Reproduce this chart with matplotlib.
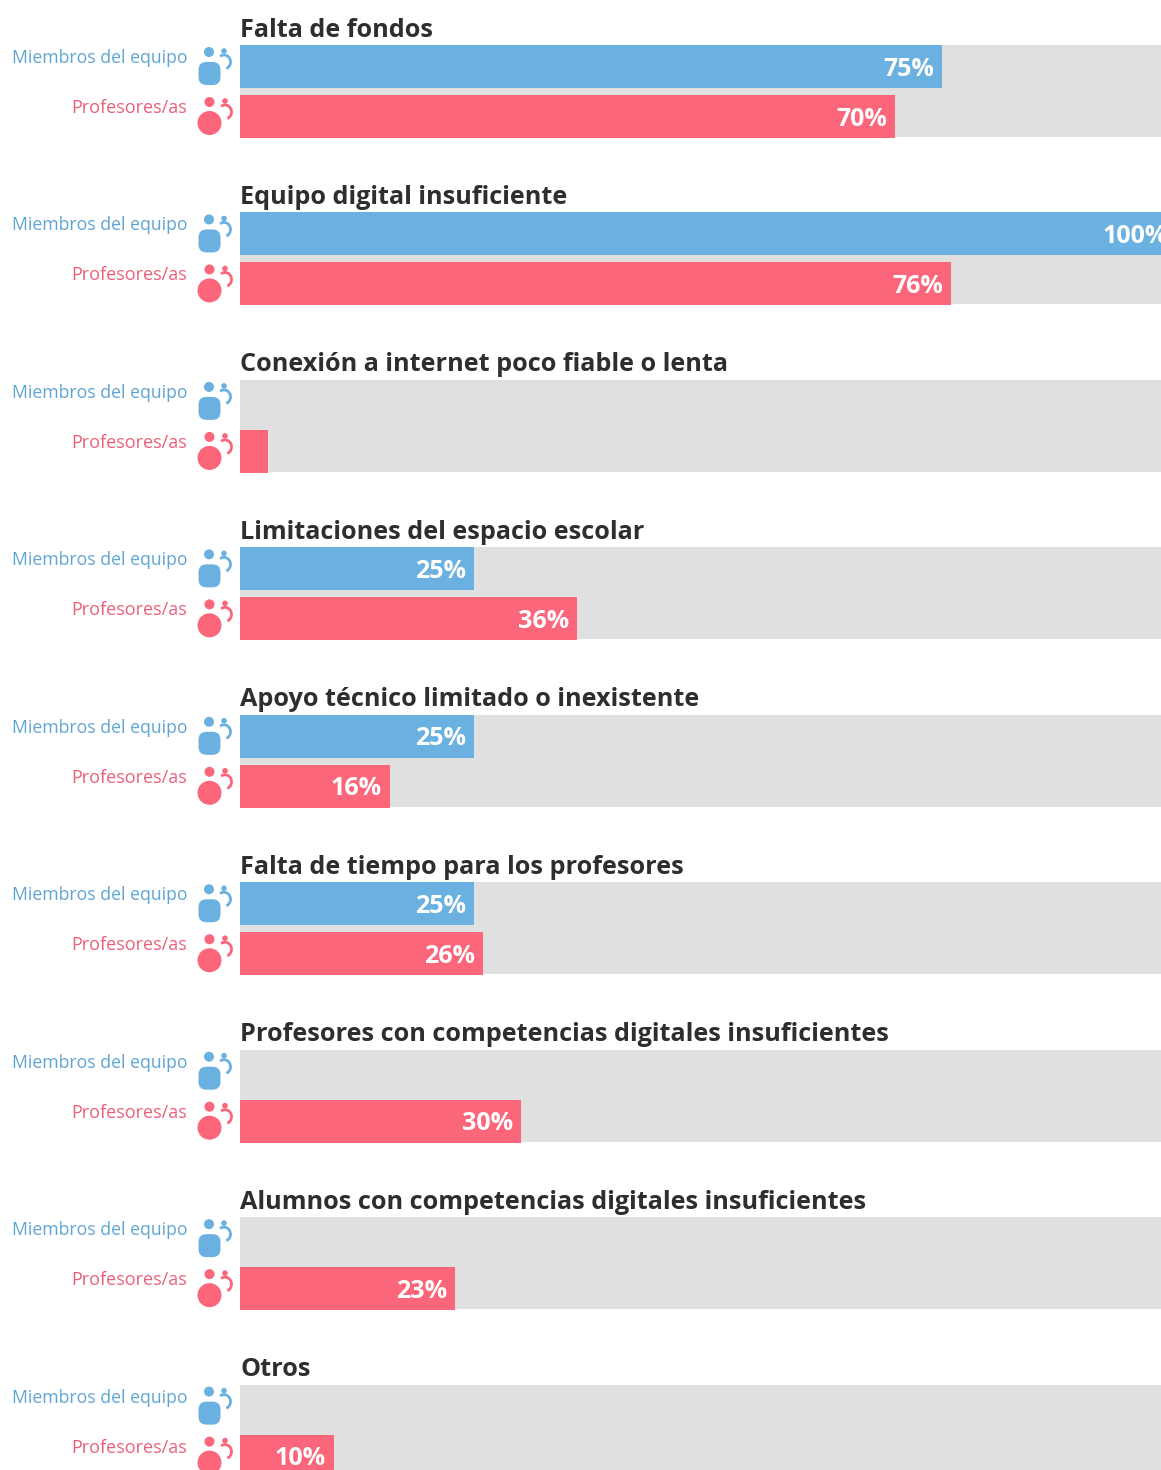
import matplotlib
matplotlib.use("Agg")
import matplotlib.pyplot as plt
from matplotlib.patches import Circle, FancyBboxPatch, Arc

# data
categories = ["Falta de fondos", "Equipo digital insuficiente",
              "Conexión a internet poco fiable o lenta", "Limitaciones del espacio escolar",
              "Apoyo técnico limitado o inexistente", "Falta de tiempo para los profesores",
              "Profesores con competencias digitales insuficientes",
              "Alumnos con competencias digitales insuficientes", "Otros"]
miembros = [75, 100, 0, 25, 25, 25, 0, 0, 0]
profesores = [70, 76, 3, 36, 16, 26, 30, 23, 10]
hide_below = 5

BLUE = "#6ab0e0"
RED = "#fb667a"
GREY = "#e0e0e0"
W, H = 1161, 1470
STEP = 167.45
TOP0 = 45
FONT = "Open Sans"

fig = plt.figure(figsize=(W / 100, H / 100), dpi=100)

# overlay in pixel coords for labels and icons
pix = fig.add_axes([0, 0, 1, 1])
pix.set_xlim(0, W)
pix.set_ylim(H, 0)
pix.axis("off")

# bars, 100% is past the right edge of the picture
ax = fig.add_axes([240 / W, 0, (W - 240) / W, 1])
ax.set_xlim(0, (W - 240) / 9.36)
ax.set_ylim(H, 0)
ax.axis("off")


def icon_blue(top):
    pix.add_patch(Circle((209, top + 7), 5, color=BLUE, lw=0))
    pix.add_patch(Circle((224, top + 6), 2.8, color=BLUE, lw=0))
    pix.add_patch(FancyBboxPatch((204.5, top + 23), 10, 11, boxstyle="round,pad=6,rounding_size=8",
                                 color=BLUE, lw=0))
    pix.add_patch(Arc((224, top + 17), 13, 14, theta1=-125, theta2=70, color=BLUE, lw=2))


def icon_red(top):
    pix.add_patch(Circle((209.5, top + 57), 5, color=RED, lw=0))
    pix.add_patch(Circle((225, top + 56), 2.8, color=RED, lw=0))
    pix.add_patch(Circle((209.5, top + 78), 12, color=RED, lw=0))
    pix.add_patch(Arc((225, top + 67), 13, 14, theta1=-125, theta2=70, color=RED, lw=2))


for i, cat in enumerate(categories):
    top = TOP0 + STEP * i
    ax.barh(top + 46, ax.get_xlim()[1], height=92, color=GREY, lw=0)
    ax.barh(top + 21.5, miembros[i], height=43, color=BLUE, lw=0)
    ax.barh(top + 71.5, profesores[i], height=43, color=RED, lw=0)
    if miembros[i] >= hide_below:
        ax.text(miembros[i] - 0.85, top + 24, f"{miembros[i]}%", ha="right", va="center",
                color="white", fontsize=18, fontweight="bold", family=FONT)
    if profesores[i] >= hide_below:
        ax.text(profesores[i] - 0.85, top + 74, f"{profesores[i]}%", ha="right", va="center",
                color="white", fontsize=18, fontweight="bold", family=FONT)
    pix.text(240, top - 15, cat, ha="left", va="center", color="#2e2e2e",
             fontsize=18.2, fontweight="bold", family=FONT)
    pix.text(187, top + 13, "Miembros del equipo", ha="right", va="center",
             color="#5fa5d3", fontsize=12.7, family=FONT)
    pix.text(187, top + 63, "Profesores/as", ha="right", va="center",
             color="#ea6079", fontsize=13, family=FONT)
    icon_blue(top)
    icon_red(top)

fig.savefig("out.png", dpi=100)
